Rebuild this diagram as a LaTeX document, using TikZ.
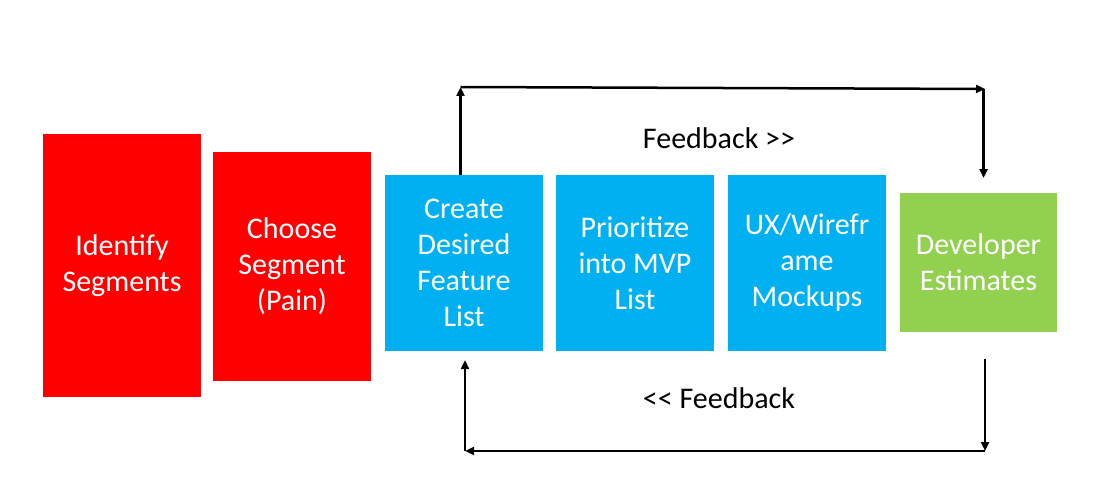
\documentclass[tikz,border=0pt]{standalone}
\usepackage{fontspec}
\setmainfont{Carlito}
\usetikzlibrary{arrows.meta}
\definecolor{boxred}{HTML}{FF0000}
\definecolor{boxblue}{HTML}{00B0F0}
\definecolor{boxgreen}{HTML}{92D050}
\begin{document}
\begin{tikzpicture}[x=1pt,y=-1pt,
  stagebox/.style={rectangle, inner sep=0pt, minimum width=158pt, text=white, align=center,
    font=\fontsize{30}{36}\selectfont},
  arr/.style={line width=2.5pt, -{Triangle[length=9pt,width=8pt]}},
  fbtext/.style={font=\fontsize{30}{36}\selectfont, text=black}]
\useasboundingbox (0,0) rectangle (1111,492);
\node[stagebox, fill=boxred, minimum height=263pt] (identify) at (122,265.5) {Identify\\Segments};
\node[stagebox, fill=boxred, minimum height=229pt] (choose) at (292,266.5) {Choose\\Segment\\(Pain)};
\node[stagebox, fill=boxblue, minimum height=176pt] (create) at (464,263) {Create\\Desired\\Feature\\List};
\node[stagebox, fill=boxblue, minimum height=176pt] (prior) at (635,263) {Prioritize\\into MVP\\List};
\node[stagebox, fill=boxblue, minimum height=176pt] (ux) at (807,263) {UX/Wirefr\\ame\\Mockups};
\node[stagebox, fill=boxgreen, minimum width=157pt, minimum height=139pt] (dev) at (978.5,262.5) {Developer\\Estimates};
\node[fbtext] (fbtop) at (719,138) {Feedback >{}>};
\node[fbtext] (fbbot) at (719,398) {<{}< Feedback};
\coordinate (t1) at (460.5,87);
\coordinate (t2) at (985,89);
\coordinate (t3) at (983.5,178);
\coordinate (b0) at (985,359);
\coordinate (b1) at (985,451);
\coordinate (b2) at (465,451);
\coordinate (b3) at (465,360);
\draw[arr] (create.north -| t1) -- (t1);
\draw[arr] (t1) -- (t2);
\draw[arr] (t2 -| t3) -- (t3);
\draw[arr] (b0) -- (b1);
\draw[arr] (b1) -- (b2);
\draw[arr] (b2) -- (b3);
\end{tikzpicture}
\end{document}
